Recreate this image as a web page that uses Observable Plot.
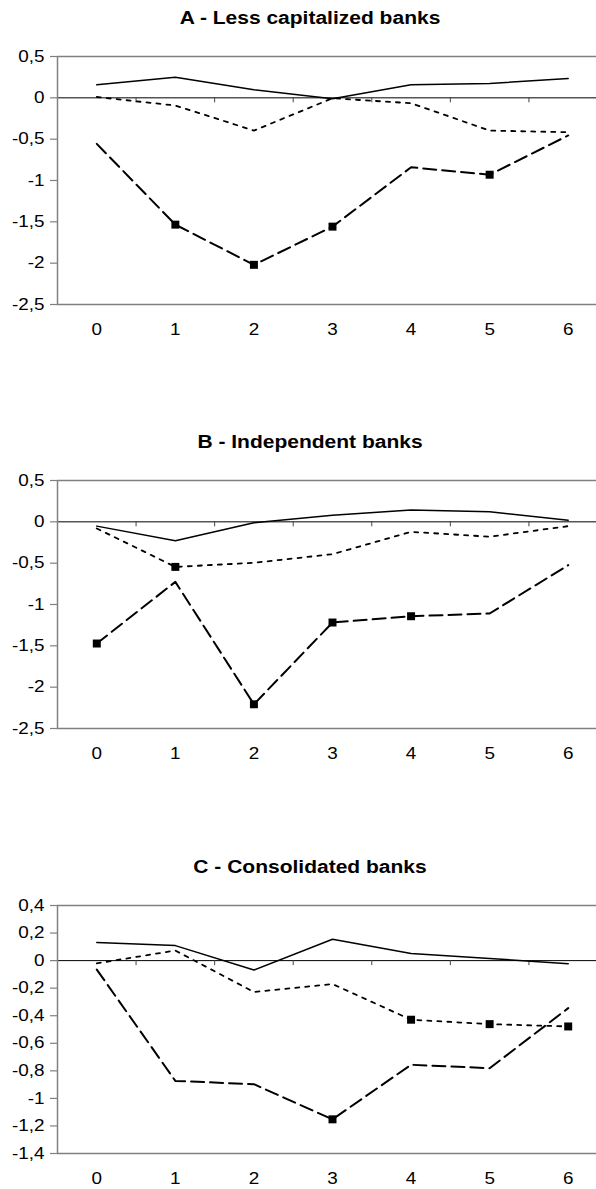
<!DOCTYPE html>
<html>
<head>
<meta charset="utf-8">
<script src="https://cdn.jsdelivr.net/npm/d3@7"></script>
<script src="https://cdn.jsdelivr.net/npm/@observablehq/plot@0.6"></script>
<style>
  html, body { margin: 0; padding: 0; background: #fff; }
  body { width: 596px; height: 1189px; position: relative; overflow: hidden; font-family: "Liberation Sans", Arial, sans-serif; }
  .panel { position: absolute; left: 0; width: 596px; height: 424px; }
  .title { position: absolute; left: 310px; top: 7px; transform: translateX(-50%) scaleX(1.2); white-space: nowrap;
           font-weight: bold; font-size: 17.5px; line-height: 22px; color: #000; }
  .panel svg { position: absolute; left: 0; top: 0; }
</style>
</head>
<body>
<script>
// Horizons (x categories)
const horizons = [0, 1, 2, 3, 4, 5, 6];

// Panel titles
const titles = ["A - Less capitalized banks", "B - Independent banks", "C - Consolidated banks"];

// Panel A – Less capitalized banks
const aSolid  = [0.157, 0.25, 0.097, -0.012, 0.157, 0.173, 0.233];
const aDotted = [0.01, -0.093, -0.396, -0.005, -0.065, -0.396, -0.416];
const aDashed = [-0.557, -1.534, -2.02, -1.558, -0.84, -0.93, -0.455];
const aDottedMarks = [];
const aDashedMarks = [1, 2, 3, 5];

// Panel B – Independent banks
const bSolid  = [-0.052, -0.23, -0.012, 0.081, 0.142, 0.121, 0.02];
const bDotted = [-0.08, -0.545, -0.496, -0.391, -0.121, -0.18, -0.052];
const bDashed = [-1.472, -0.726, -2.207, -1.218, -1.142, -1.109, -0.524];
const bDottedMarks = [1];
const bDashedMarks = [0, 2, 3, 4];

// Panel C – Consolidated banks
const cSolid  = [0.131, 0.109, -0.068, 0.155, 0.051, 0.015, -0.022];
const cDotted = [-0.02, 0.073, -0.228, -0.17, -0.429, -0.461, -0.478];
const cDashed = [-0.065, -0.873, -0.897, -1.152, -0.756, -0.781, -0.345];
const cDottedMarks = [4, 5, 6];
const cDashedMarks = [3];

// Y tick labels
const yTicksAB = [0.5, 0, -0.5, -1, -1.5, -2, -2.5];
const yTicksC  = [0.4, 0.2, 0, -0.2, -0.4, -0.6, -0.8, -1, -1.2, -1.4];

const panels = [
  {title: titles[0], solid: aSolid, dotted: aDotted, dashed: aDashed, dotM: aDottedMarks, dashM: aDashedMarks, ticks: yTicksAB, top: 0},
  {title: titles[1], solid: bSolid, dotted: bDotted, dashed: bDashed, dotM: bDottedMarks, dashM: bDashedMarks, ticks: yTicksAB, top: 424},
  {title: titles[2], solid: cSolid, dotted: cDotted, dashed: cDashed, dotM: cDottedMarks, dashM: cDashedMarks, ticks: yTicksC, top: 849}
];

const fmt = d => String(d).replace(".", ",");
const gray = "#808080";

for (const p of panels) {
  const yMax = d3.max(p.ticks), yMin = d3.min(p.ticks);
  const rows = (vals) => horizons.map((h, i) => ({h, v: vals[i]}));
  const marks = (vals, idx) => idx.map(i => ({h: horizons[i], v: vals[i]}));
  const bounds = horizons.slice(0, -1).map(h => h + 0.5);

  const chart = Plot.plot({
    width: 596,
    height: 340,
    marginTop: 56,
    marginBottom: 36,
    marginLeft: 57,
    marginRight: 0,
    style: {fontFamily: "'Liberation Sans', Arial, sans-serif", fontSize: "16px", background: "transparent"},
    x: {domain: [-0.5, 6.5], range: [57, 607], axis: null},
    y: {domain: [yMin, yMax], axis: null},
    marks: [
      // frame
      Plot.ruleY([yMax], {stroke: gray, strokeWidth: 1.5}),
      Plot.ruleY([yMin], {stroke: gray, strokeWidth: 1.5}),
      // zero line
      Plot.ruleY([0], {stroke: "#000", strokeWidth: 1}),
      // category ticks on zero line
      Plot.ruleX(bounds, {y1: 0, y2: 0, insetBottom: -5, stroke: "#444", strokeWidth: 1}),
      // y axis
      Plot.axisY(p.ticks, {tickSize: 7, tickPadding: 6, tickFormat: fmt, fontSize: 16, stroke: gray, strokeWidth: 1.2, label: null}),
      Plot.ruleX([-0.5], {stroke: gray, strokeWidth: 1.5}),
      // x labels
      Plot.text(horizons, {x: d => d, y: yMin, dy: 25, text: d => String(d), fontSize: 16, lineAnchor: "middle", fill: "#000"}),
      // series
      Plot.line(rows(p.solid), {x: "h", y: "v", stroke: "#000", strokeWidth: 1.5}),
      Plot.line(rows(p.dotted), {x: "h", y: "v", stroke: "#000", strokeWidth: 1.8, strokeDasharray: "4,6"}),
      Plot.line(rows(p.dashed), {x: "h", y: "v", stroke: "#000", strokeWidth: 2, strokeDasharray: "13,6"}),
      Plot.dot(marks(p.dotted, p.dotM), {x: "h", y: "v", symbol: "square", r: 4.5, fill: "#000", stroke: "none"}),
      Plot.dot(marks(p.dashed, p.dashM), {x: "h", y: "v", symbol: "square", r: 4.5, fill: "#000", stroke: "none"})
    ]
  });

  // widen the glyphs horizontally (the reference text is stretched)
  d3.select(chart).selectAll("text").each(function () {
    const t = this.getAttribute("transform");
    if (t && t.startsWith("translate")) this.setAttribute("transform", t + " scale(1.18,1)");
  });

  const div = document.createElement("div");
  div.className = "panel";
  div.style.top = p.top + "px";
  const t = document.createElement("div");
  t.className = "title";
  t.textContent = p.title;
  div.appendChild(chart);
  div.appendChild(t);
  document.body.appendChild(div);
}
</script>
</body>
</html>
